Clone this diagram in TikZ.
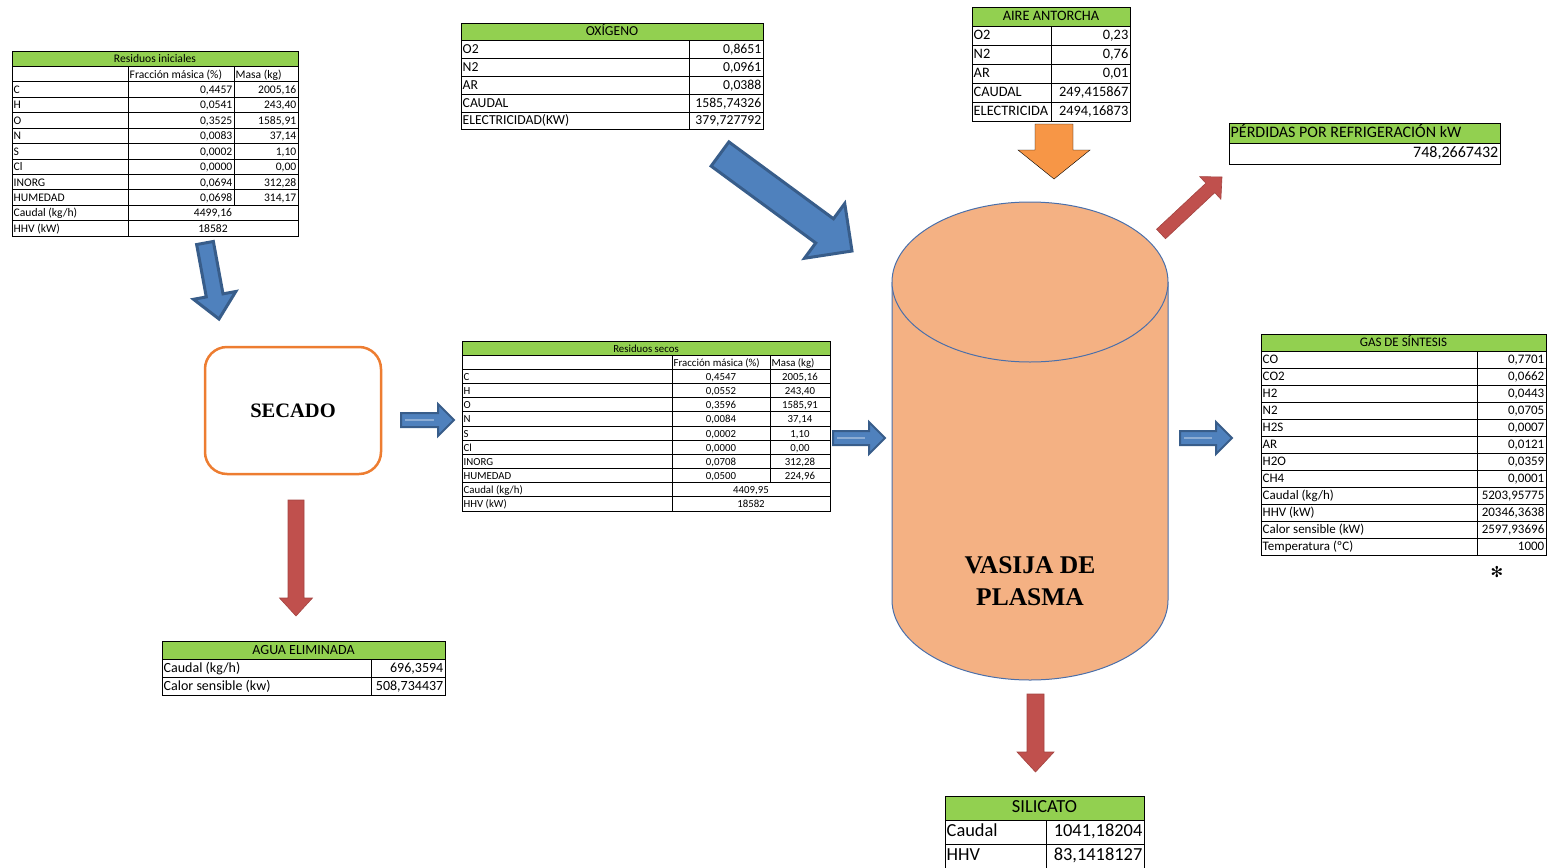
\documentclass[tikz,border=0pt]{standalone}
\usepackage{fontspec}
\setmainfont{Carlito}
\newfontfamily\timesfont{Liberation Serif}
\newfontfamily\symbfont{DejaVu Sans}
\usetikzlibrary{calc}

\definecolor{headgreen}{HTML}{92D050}
\definecolor{vesselfill}{HTML}{F4B183}
\definecolor{vesselline}{HTML}{4A6FAA}
\definecolor{secadoline}{HTML}{ED7D31}
\definecolor{flowblue}{HTML}{4F81BD}
\definecolor{flowbluedark}{HTML}{385D8A}
\definecolor{flowred}{HTML}{C0504D}
\definecolor{floworange}{HTML}{F79646}

% block arrow: style, tail, tip, shaft half width, head length, head half width
\newcommand{\blockarrow}[6]{%
  \path ($(#3)!#5!(#2)$) coordinate (hb);
  \filldraw[#1] ($(#2)!#4!90:(#3)$) -- ($(hb)!#4!90:(#3)$) -- ($(hb)!#6!90:(#3)$) -- (#3)
    -- ($(hb)!#6!-90:(#3)$) -- ($(hb)!#4!-90:(#3)$) -- ($(#2)!#4!-90:(#3)$) -- cycle;
}

% two column table: name, left, split, right, top, row height, title, rows
\newcommand{\twocoltab}[8]{%
  \fill[headgreen] (#2,#5) rectangle (#4,{#5+#6});
  \draw[cell] (#2,#5) rectangle (#4,{#5+#6});
  \node[midtxt, tabfont] (#1-title) at ({(#2+#4)/2},{#5+#6/2}) {#7};
  \foreach \lab/\val [count=\i] in {#8} {
    \draw[cell] (#2,{#5+\i*#6}) rectangle (#3,{#5+(\i+1)*#6});
    \draw[cell] (#3,{#5+\i*#6}) rectangle (#4,{#5+(\i+1)*#6});
    \node[labtxt, tabfont] (#1-l\i) at (#2,{#5+(\i+.5)*#6}) {\lab};
    \node[valtxt, tabfont] (#1-v\i) at (#4,{#5+(\i+.5)*#6}) {\val};
  }%
}

% three column table: name, column edges (4), top, row height, title, rows
\newcommand{\threecoltab}[9]{%
  \fill[headgreen] (#2,#6) rectangle (#5,{#6+#7});
  \draw[cell] (#2,#6) rectangle (#5,{#6+#7});
  \node[midtxt, tabfont] (#1-title) at ({(#2+#5)/2},{#6+#7/2}) {#8};
  \draw[cell] (#2,{#6+#7}) rectangle (#3,{#6+2*#7});
  \draw[cell] (#3,{#6+#7}) rectangle (#4,{#6+2*#7});
  \draw[cell] (#4,{#6+#7}) rectangle (#5,{#6+2*#7});
  \node[labtxt, tabfont] (#1-hf) at (#3,{#6+1.5*#7}) {Fracción másica (\%)};
  \node[labtxt, tabfont] (#1-hm) at (#4,{#6+1.5*#7}) {Masa (kg)};
  \foreach \lab/\fr/\ms [count=\i from 2] in {#9} {
    \draw[cell] (#2,{#6+\i*#7}) rectangle (#3,{#6+(\i+1)*#7});
    \node[labtxt, tabfont] (#1-l\i) at (#2,{#6+(\i+.5)*#7}) {\lab};
    \ifnum\i<10
      \draw[cell] (#3,{#6+\i*#7}) rectangle (#4,{#6+(\i+1)*#7});
      \draw[cell] (#4,{#6+\i*#7}) rectangle (#5,{#6+(\i+1)*#7});
      \node[fracpos, tabfont] (#1-f\i) at (#4,{#6+(\i+.5)*#7}) {\fr};
      \node[masspos, tabfont] (#1-m\i) at (#5,{#6+(\i+.5)*#7}) {\ms};
    \else
      \draw[cell] (#3,{#6+\i*#7}) rectangle (#5,{#6+(\i+1)*#7});
      \node[midtxt, tabfont] (#1-f\i) at ({(#3+#5)/2},{#6+(\i+.5)*#7}) {\fr};
    \fi
  }%
}

\begin{document}
\begin{tikzpicture}[x=1pt, y=-1pt,
    cell/.style={draw=black, line width=0.8pt},
    tabfont/.style={font=\fontsize{12}{12}\selectfont},
    labtxt/.style={anchor=west, inner xsep=1.5pt, inner ysep=0pt, text height=0.88em, text depth=0.08em},
    valtxt/.style={anchor=east, inner xsep=1.5pt, inner ysep=0pt, text height=0.88em, text depth=0.08em},
    midtxt/.style={anchor=center, inner sep=0pt, text height=0.88em, text depth=0.08em},
    fracpos/.style={valtxt},
    masspos/.style={valtxt},
    bluearrow/.style={fill=flowblue, draw=flowbluedark, line width=3pt, line join=miter},
    smallblue/.style={fill=flowblue, draw=flowbluedark, line width=2pt, line join=miter},
    glint/.style={draw=flowblue!65!white, line width=2.5pt},
    redarrow/.style={fill=flowred, draw=flowred!85!black, line width=0.6pt},
    orangearrow/.style={fill=floworange},
    secadobox/.style={draw=secadoline, line width=2.5pt, rounded corners=22pt, minimum width=176pt,
        minimum height=127pt, font=\timesfont\bfseries\fontsize{20.5}{20.5}\selectfont},
    vessel/.style={fill=vesselfill, draw=vesselline, line width=1pt},
    vesseltxt/.style={align=center, font=\timesfont\bfseries\fontsize{25.5}{32}\selectfont}
]
\useasboundingbox (0,0) rectangle (1549,867);

% Define the input tables
\begin{scope}[tabfont/.style={font=\fontsize{11.6}{11.6}\selectfont}]
\threecoltab{iniciales}{12}{128}{234}{298}{51}{15.42}{Residuos iniciales}{
  C/{0,4457}/{2005,16}, H/{0,0541}/{243,40}, O/{0,3525}/{1585,91}, N/{0,0083}/{37,14},
  S/{0,0002}/{1,10}, Cl/{0,0000}/{0,00}, INORG/{0,0694}/{312,28}, HUMEDAD/{0,0698}/{314,17},
  {Caudal (kg/h)}/{4499,16}/{}, {HHV (kW)}/{18582}/{}}
\end{scope}
\begin{scope}[tabfont/.style={font=\fontsize{13.7}{13.7}\selectfont}]
\twocoltab{oxigeno}{461}{689}{763}{23}{17.8}{OXÍGENO}{
  O2/{0,8651}, N2/{0,0961}, AR/{0,0388}, CAUDAL/{1585,74326}, {ELECTRICIDAD(KW)}/{379,727792}}
\end{scope}
\begin{scope}[tabfont/.style={font=\fontsize{14.4}{14.4}\selectfont}]
\twocoltab{aire}{972}{1051}{1130}{7}{19}{AIRE ANTORCHA}{
  O2/{0,23}, N2/{0,76}, AR/{0,01}, CAUDAL/{249,415867}, ELECTRICIDA/{2494,16873}}
\end{scope}

% Define the process units
\node[secadobox] (secado) at (293,410.5) {SECADO};
\fill[vesselfill] (892,282) -- (892,600) arc[start angle=180, end angle=0, x radius=138, y radius=80] -- (1168,282) -- cycle;
\draw[vesselline, line width=1pt] (892,282) -- (892,600) arc[start angle=180, end angle=0, x radius=138, y radius=80] -- (1168,282);
\filldraw[vessel] (1030,282) ellipse [x radius=138, y radius=80];
\node[vesseltxt] (vasija) at (1030,581) {VASIJA DE\\PLASMA};

% Define the intermediate and output tables
\begin{scope}[tabfont/.style={font=\fontsize{10.8}{10.8}\selectfont},
    fracpos/.style={midtxt, xshift=-49pt}, masspos/.style={midtxt, xshift=-30pt}]
\threecoltab{secos}{462}{672}{770}{830}{341}{14.17}{Residuos secos}{
  C/{0,4547}/{2005,16}, H/{0,0552}/{243,40}, O/{0,3596}/{1585,91}, N/{0,0084}/{37,14},
  S/{0,0002}/{1,10}, Cl/{0,0000}/{0,00}, INORG/{0,0708}/{312,28}, HUMEDAD/{0,0500}/{224,96},
  {Caudal (kg/h)}/{4409,95}/{}, {HHV (kW)}/{18582}/{}}
\end{scope}
\begin{scope}[tabfont/.style={font=\fontsize{13}{13}\selectfont}]
\twocoltab{gas}{1261}{1477}{1546}{334}{17}{GAS DE SÍNTESIS}{
  CO/{0,7701}, CO2/{0,0662}, H2/{0,0443}, N2/{0,0705}, H2S/{0,0007}, AR/{0,0121},
  H2O/{0,0359}, CH4/{0,0001}, {Caudal (kg/h)}/{5203,95775}, {HHV (kW)}/{20346,3638},
  {Calor sensible (kW)}/{2597,93696}, {Temperatura (ºC)}/{1000}}
\end{scope}
\node[font=\symbfont\fontsize{15}{15}\selectfont, inner sep=0pt] (nota) at (1497,572) {✻};
\begin{scope}[tabfont/.style={font=\fontsize{14}{14}\selectfont}]
\twocoltab{agua}{162}{371}{445}{641}{18}{AGUA ELIMINADA}{
  {Caudal (kg/h)}/{696,3594}, {Calor sensible (kw)}/{508,734437}}
\end{scope}
\begin{scope}[tabfont/.style={font=\fontsize{18.4}{18.4}\selectfont}]
\twocoltab{silicato}{945}{1046}{1144}{796}{24}{SILICATO}{
  Caudal/{1041,18204}, HHV/{83,1418127}}
\end{scope}
\fill[headgreen] (1229,123) rectangle (1500,143);
\draw[cell] (1229,123) rectangle (1500,143);
\draw[cell] (1229,143) rectangle (1500,164);
\node[labtxt, font=\fontsize{16}{16}\selectfont] (perdidas-title) at (1229,133) {PÉRDIDAS POR REFRIGERACIÓN kW};
\node[valtxt, font=\fontsize{16}{16}\selectfont] (perdidas-v1) at (1500,153.5) {748,2667432};

% Define the flow arrows
\coordinate (feed-tail) at (205,243);   \coordinate (feed-tip) at (219,319);
\coordinate (ox-tail) at (720,154);     \coordinate (ox-tip) at (852,251);
\coordinate (air-tail) at (1054,124);   \coordinate (air-tip) at (1054,179);
\coordinate (loss-tail) at (1161,234);  \coordinate (loss-tip) at (1222,177);
\coordinate (water-tail) at (296,500);  \coordinate (water-tip) at (296,616);
\coordinate (slag-tail) at (1035.5,694); \coordinate (slag-tip) at (1035.5,772);
\coordinate (dry-tail) at (401,420);    \coordinate (dry-tip) at (454,420);
\coordinate (in-tail) at (833,438);     \coordinate (in-tip) at (885,438);
\coordinate (gas-tail) at (1180,438);   \coordinate (gas-tip) at (1232,438);

\blockarrow{bluearrow}{feed-tail}{feed-tip}{8.5pt}{24pt}{21.5pt}
\blockarrow{bluearrow}{ox-tail}{ox-tip}{15pt}{34pt}{34pt}
\blockarrow{orangearrow}{air-tail}{air-tip}{19pt}{29pt}{36pt}
\blockarrow{redarrow}{loss-tail}{loss-tip}{6.5pt}{16pt}{15.5pt}
\blockarrow{redarrow}{water-tail}{water-tip}{8pt}{18pt}{16.5pt}
\blockarrow{redarrow}{slag-tail}{slag-tip}{8.5pt}{20pt}{18.5pt}
\blockarrow{smallblue}{dry-tail}{dry-tip}{7pt}{16pt}{16pt}
\blockarrow{smallblue}{in-tail}{in-tip}{7pt}{16pt}{16pt}
\blockarrow{smallblue}{gas-tail}{gas-tip}{7pt}{16pt}{16pt}
\draw[glint] ($(dry-tail)!4pt!(dry-tip)$) -- ($(dry-tip)!20pt!(dry-tail)$);
\draw[glint] ($(in-tail)!4pt!(in-tip)$) -- ($(in-tip)!20pt!(in-tail)$);
\draw[glint] ($(gas-tail)!4pt!(gas-tip)$) -- ($(gas-tip)!20pt!(gas-tail)$);

\end{tikzpicture}
\end{document}
